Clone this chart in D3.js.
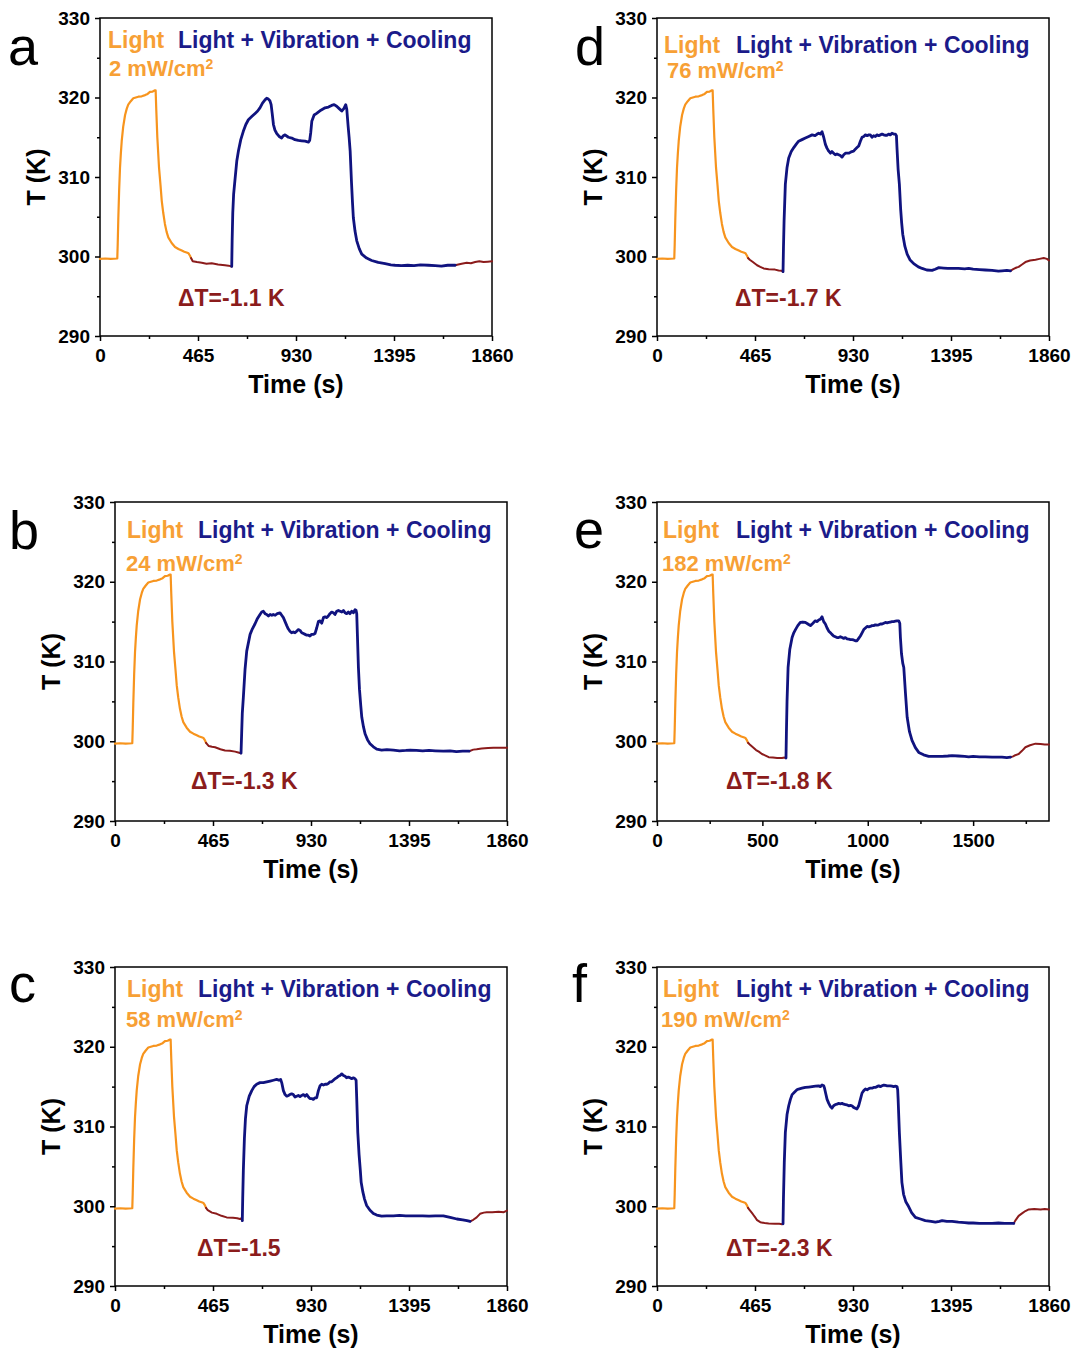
<!DOCTYPE html>
<html><head><meta charset="utf-8">
<script src="https://cdn.jsdelivr.net/npm/d3@7"></script>
<style>body{margin:0;background:#fff}svg{display:block}</style>
</head><body>
<svg id="chart" width="1078" height="1351"></svg>
<script>
// ---------------- DATA ----------------
const panelKeys = ["a","b","c","d","e","f"];
const intensities = ["2","24","58","76","182","190"];
const deltaLabels = ["ΔT=-1.1 K","ΔT=-1.3 K","ΔT=-1.5","ΔT=-1.7 K","ΔT=-1.8 K","ΔT=-2.3 K"];
const yTicks = [290,300,310,320,330];
const yMinor = [295,305,315,325];
const xTicks = [0,465,930,1395,1860];
const xMinor = [232.5,697.5,1162.5,1627.5];
const xTicksE = [0,500,1000,1500];
const xMinorE = [250,750,1250,1750];

// Light-only heating and natural cooling (same in every panel) [time s, T K]
const lightCurve = [[0,299.7],[25,299.75],[50,299.7],[82,299.75],[84,301.5],[87,304.9],[91,308.5],[95,311.2],[99,313.0],[103,314.5],[110,316.3],[119,317.8],[127,318.6],[134,319.1],[145,319.5],[158,319.9],[170,320.0],[182,320.1],[198,320.15],[214,320.3],[226,320.45],[237,320.7],[250,320.75],[261,320.9],[264,320.9],[267,318.5],[272,315.0],[280,311.2],[287,309.0],[293,307.0],[300,305.5],[308,304.1],[316,303.1],[324,302.4],[340,301.7],[356,301.2],[372,300.95],[388,300.75],[400,300.6],[411,300.5],[420,300.4],[427,300.1],[432,299.8]];

// Rest of each run [time s, T K]; switch times mark start/end of Light+Vibration+Cooling
const switchA = [625,1685];
const curveA = [[432,299.8],[440,299.4],[460,299.3],[483,299.2],[505,299.1],[530,299.15],[560,299.0],[593,298.9],[610,298.85],[625,298.75],[627,302.0],[630,305.5],[634,307.8],[641,309.8],[649,312.0],[657,313.3],[668,314.7],[680,315.75],[692,316.6],[704,317.2],[720,317.6],[736,318.0],[748,318.3],[759,318.7],[771,319.3],[783,319.7],[791,319.9],[799,319.8],[806,319.6],[812,319.1],[817,318.0],[823,316.6],[830,315.9],[838,315.5],[850,315.1],[862,314.9],[870,315.2],[878,315.3],[894,315.0],[910,314.9],[925,314.7],[941,314.6],[957,314.55],[973,314.5],[989,314.4],[995,314.6],[1000,315.6],[1005,317.0],[1016,317.8],[1028,318.0],[1048,318.4],[1068,318.7],[1084,318.8],[1099,319.0],[1111,319.1],[1123,318.9],[1135,318.6],[1147,318.3],[1157,318.6],[1166,319.1],[1171,318.5],[1177,316.5],[1182,315.0],[1187,313.25],[1193,309.5],[1198,306.8],[1202,304.9],[1210,303.2],[1218,302.0],[1230,301.0],[1242,300.3],[1265,299.8],[1289,299.5],[1320,299.25],[1353,299.1],[1380,298.95],[1400,298.9],[1430,298.85],[1460,298.9],[1490,298.85],[1520,298.95],[1558,298.9],[1590,298.85],[1620,298.8],[1650,298.9],[1685,298.9],[1700,299.0],[1716,299.1],[1740,299.2],[1760,299.15],[1780,299.3],[1800,299.4],[1820,299.3],[1840,299.35],[1860,299.4]];

const switchB = [598,1680];
const curveB = [[432,299.8],[445,299.4],[460,299.3],[475,299.25],[500,299.0],[522,298.85],[545,298.8],[570,298.7],[585,298.6],[598,298.5],[601,301.0],[604,303.5],[609,305.5],[617,309.0],[625,311.3],[641,313.4],[652,314.1],[664,314.7],[676,315.4],[688,315.9],[696,316.2],[704,316.3],[712,316.0],[720,315.9],[728,315.7],[736,315.9],[744,315.8],[751,315.9],[760,315.8],[770,316.0],[783,316.1],[791,315.8],[799,315.5],[807,315.0],[815,314.5],[822,314.1],[830,313.8],[838,313.6],[846,313.7],[854,313.6],[862,313.8],[870,314.0],[878,313.9],[886,313.6],[894,313.5],[902,313.4],[910,313.3],[918,313.3],[925,313.2],[933,313.4],[941,313.4],[949,313.5],[957,314.2],[965,315.0],[973,315.1],[981,314.8],[989,315.5],[997,315.6],[1005,315.5],[1012,315.7],[1020,316.0],[1028,316.2],[1036,316.1],[1044,315.9],[1052,316.3],[1060,316.4],[1068,316.3],[1076,316.2],[1084,316.4],[1092,316.1],[1099,316.0],[1107,316.2],[1115,316.0],[1123,316.3],[1131,316.1],[1139,316.5],[1144,316.4],[1147,316.0],[1150,313.5],[1155,309.25],[1160,306.5],[1166,304.5],[1171,303.0],[1179,301.8],[1187,300.9],[1198,300.2],[1210,299.7],[1226,299.3],[1242,299.0],[1265,298.9],[1290,298.95],[1321,298.9],[1350,298.8],[1380,298.85],[1400,298.9],[1430,298.85],[1460,298.8],[1490,298.85],[1520,298.8],[1558,298.75],[1590,298.8],[1620,298.7],[1650,298.75],[1680,298.75],[1700,298.95],[1716,299.0],[1740,299.1],[1770,299.15],[1796,299.2],[1830,299.2],[1860,299.2]];

const switchC = [604,1685];
const curveC = [[432,299.8],[440,299.5],[460,299.2],[483,299.05],[505,298.8],[530,298.6],[560,298.55],[580,298.5],[593,298.4],[600,298.5],[604,298.2],[606,301.0],[609,304.5],[614,308.5],[619,311.0],[625,312.6],[637,313.8],[649,314.5],[660,315.0],[672,315.3],[688,315.5],[704,315.5],[720,315.6],[736,315.7],[752,315.8],[767,315.9],[778,315.8],[786,315.9],[792,315.4],[799,314.5],[807,314.0],[815,313.8],[823,313.9],[830,314.0],[838,314.1],[846,314.0],[854,313.7],[862,313.8],[870,313.9],[878,313.75],[886,313.9],[894,314.0],[902,313.8],[910,314.0],[918,313.7],[925,313.5],[933,313.5],[941,313.4],[949,313.6],[957,313.6],[965,314.5],[973,315.1],[981,315.3],[989,315.2],[997,315.3],[1005,315.3],[1012,315.4],[1020,315.6],[1028,315.6],[1036,315.8],[1044,316.0],[1052,316.1],[1060,316.3],[1068,316.4],[1076,316.6],[1084,316.4],[1092,316.3],[1099,316.1],[1107,316.2],[1115,316.1],[1123,316.0],[1131,316.1],[1139,316.0],[1144,315.8],[1147,313.5],[1152,309.25],[1158,306.5],[1164,304.5],[1168,303.0],[1176,301.8],[1184,300.9],[1194,300.1],[1210,299.5],[1226,299.1],[1242,298.9],[1265,298.75],[1289,298.8],[1321,298.8],[1350,298.85],[1380,298.8],[1400,298.8],[1430,298.8],[1460,298.8],[1490,298.75],[1520,298.8],[1558,298.8],[1590,298.6],[1622,298.4],[1650,298.3],[1670,298.2],[1685,298.1],[1700,298.3],[1716,298.6],[1732,299.05],[1750,299.2],[1764,299.25],[1790,299.25],[1820,299.3],[1845,299.25],[1860,299.45]];

const switchD = [598,1677];
const curveD = [[432,299.8],[440,299.6],[455,299.3],[475,298.9],[490,298.7],[506,298.5],[530,298.4],[560,298.35],[577,298.25],[592,298.2],[598,298.1],[600,301.0],[603,304.5],[609,309.1],[617,311.2],[625,312.4],[637,313.2],[649,313.7],[660,314.1],[672,314.5],[688,314.7],[704,314.9],[720,315.1],[736,315.3],[750,315.2],[760,315.4],[767,315.5],[775,315.4],[783,315.7],[791,315.0],[799,314.1],[807,313.6],[815,313.25],[823,313.0],[830,313.2],[838,313.0],[846,312.8],[854,312.9],[862,312.8],[870,312.7],[878,312.5],[886,312.8],[894,313.0],[902,313.0],[910,313.0],[918,313.1],[925,313.2],[933,313.25],[941,313.5],[949,313.7],[957,313.9],[965,314.5],[973,315.0],[981,315.1],[989,315.3],[997,315.2],[1005,315.3],[1012,315.3],[1020,315.0],[1028,315.2],[1036,315.1],[1044,315.3],[1052,315.2],[1060,315.3],[1068,315.4],[1076,315.3],[1084,315.25],[1092,315.25],[1099,315.4],[1107,315.3],[1115,315.5],[1123,315.4],[1131,315.4],[1136,315.2],[1139,313.5],[1144,311.0],[1150,309.1],[1156,306.0],[1161,304.2],[1166,302.8],[1176,301.3],[1187,300.3],[1200,299.6],[1218,299.1],[1240,298.7],[1258,298.5],[1280,298.3],[1305,298.25],[1320,298.4],[1337,298.6],[1360,298.55],[1380,298.5],[1400,298.5],[1430,298.5],[1460,298.45],[1479,298.5],[1500,298.4],[1530,298.35],[1558,298.3],[1590,298.25],[1620,298.15],[1637,298.2],[1660,298.25],[1677,298.2],[1690,298.4],[1700,298.55],[1716,298.7],[1732,299.0],[1748,299.3],[1770,299.5],[1796,299.6],[1815,299.7],[1835,299.8],[1850,299.7],[1860,299.5]];

const switchE = [612,1677];
const curveE = [[432,299.8],[440,299.6],[455,299.25],[470,298.9],[483,298.7],[498,298.4],[515,298.2],[530,298.0],[550,297.95],[570,297.9],[593,297.9],[605,297.95],[612,297.9],[614,301.0],[617,305.0],[622,309.25],[630,311.5],[641,313.0],[649,313.6],[657,314.0],[668,314.5],[680,314.9],[692,314.95],[704,314.9],[716,314.7],[728,314.5],[740,314.8],[751,315.1],[760,315.0],[767,315.2],[775,315.3],[783,315.6],[791,315.0],[799,314.7],[807,314.2],[815,313.8],[823,313.6],[830,313.4],[838,313.2],[846,313.1],[854,313.0],[862,313.0],[870,313.1],[878,313.0],[886,312.9],[894,313.0],[902,312.85],[910,312.8],[918,312.75],[925,312.75],[933,312.7],[941,312.6],[949,312.6],[957,312.9],[965,313.2],[973,313.6],[981,314.0],[989,314.2],[997,314.4],[1005,314.35],[1012,314.4],[1020,314.5],[1028,314.5],[1036,314.6],[1044,314.55],[1052,314.6],[1060,314.7],[1068,314.7],[1076,314.8],[1084,314.9],[1092,314.85],[1099,314.9],[1107,314.95],[1115,315.0],[1123,315.0],[1131,315.05],[1139,315.1],[1147,315.1],[1152,314.8],[1155,313.0],[1160,311.0],[1166,309.8],[1171,309.25],[1179,306.0],[1187,303.0],[1198,301.2],[1210,300.1],[1226,299.2],[1242,298.6],[1265,298.3],[1289,298.1],[1320,298.1],[1353,298.1],[1380,298.15],[1400,298.2],[1430,298.15],[1460,298.1],[1479,298.05],[1500,298.1],[1530,298.05],[1558,298.05],[1590,298.0],[1620,298.0],[1637,298.0],[1660,297.95],[1677,298.0],[1690,298.1],[1700,298.25],[1716,298.4],[1732,298.8],[1748,299.25],[1770,299.5],[1796,299.7],[1820,299.65],[1840,299.6],[1860,299.6]];

const switchF = [598,1693];
const curveF = [[432,299.8],[440,299.5],[455,299.0],[466,298.6],[475,298.25],[490,298.0],[510,297.9],[530,297.85],[560,297.8],[580,297.8],[593,297.75],[598,297.8],[600,301.0],[604,305.5],[609,309.25],[617,311.5],[625,312.6],[633,313.4],[641,314.0],[652,314.3],[664,314.6],[672,314.7],[688,314.8],[704,314.9],[720,314.95],[736,315.0],[752,315.05],[767,315.1],[775,315.0],[783,315.2],[791,315.1],[795,314.8],[800,314.2],[807,313.4],[815,312.9],[823,312.5],[830,312.3],[838,312.6],[846,312.75],[854,312.8],[862,312.9],[870,312.85],[878,312.9],[886,312.8],[894,312.75],[902,312.7],[910,312.6],[918,312.65],[925,312.6],[933,312.4],[941,312.3],[949,312.2],[957,312.6],[965,313.4],[973,314.2],[981,314.5],[989,314.7],[997,314.6],[1005,314.75],[1012,314.8],[1020,314.8],[1028,314.9],[1036,314.9],[1044,315.0],[1052,315.1],[1060,315.0],[1068,315.1],[1076,315.2],[1084,315.15],[1092,315.1],[1099,315.1],[1107,315.1],[1115,315.05],[1123,315.0],[1131,315.05],[1139,315.0],[1142,314.6],[1144,313.5],[1150,309.25],[1156,306.0],[1162,303.0],[1170,301.5],[1180,300.6],[1191,300.1],[1208,299.2],[1226,298.6],[1250,298.4],[1273,298.2],[1300,298.1],[1321,298.0],[1340,298.1],[1353,298.2],[1375,298.1],[1400,298.1],[1430,298.0],[1460,297.95],[1479,297.9],[1500,297.9],[1530,297.85],[1558,297.85],[1590,297.85],[1620,297.9],[1650,297.85],[1677,297.85],[1693,297.85],[1700,298.2],[1716,298.8],[1732,299.1],[1748,299.4],[1764,299.6],[1790,299.65],[1820,299.6],[1840,299.65],[1860,299.6]];

const curves = {a:curveA,b:curveB,c:curveC,d:curveD,e:curveE,f:curveF};
const switches = {a:switchA,b:switchB,c:switchC,d:switchD,e:switchE,f:switchF};

// ---------------- LAYOUT / STYLE ----------------
const layout = {
  a:{l:100,t:18,r:492,b:336, light:[108,48], lvc:[178,48], inten:[109,76], dt:[178,306], letter:[8,65]},
  b:{l:115,t:502,r:507,b:821, light:[127,538], lvc:[198,538], inten:[126,571], dt:[191,789], letter:[9,549]},
  c:{l:115,t:967,r:507,b:1286, light:[127,997], lvc:[198,997], inten:[126,1027], dt:[197,1256], letter:[9,1002]},
  d:{l:657,t:18,r:1049,b:336, light:[664,53], lvc:[736,53], inten:[667,78], dt:[735,306], letter:[575,65]},
  e:{l:657,t:502,r:1049,b:821, light:[663,538], lvc:[736,538], inten:[662,571], dt:[726,789], letter:[574,548]},
  f:{l:657,t:967,r:1049,b:1286, light:[663,997], lvc:[736,997], inten:[661,1027], dt:[726,1256], letter:[572,1002]}
};
const FONT = "Arial, 'Liberation Sans', Helvetica, sans-serif";
const C_ORANGE = "#f7941d", C_NAVY = "#10137f", C_BROWN = "#8b1b1b";
const T_ORANGE = "#f7a035", T_NAVY = "#1b1b8a", T_BROWN = "#8b1c1c";

const svg = d3.select("#chart");
svg.append("rect").attr("width",1078).attr("height",1351).attr("fill","#fff");

panelKeys.forEach((k, i) => {
  const L = layout[k];
  const x = d3.scaleLinear().domain([0,1860]).range([L.l, L.r]);
  const y = d3.scaleLinear().domain([290,330]).range([L.b, L.t]);
  const g = svg.append("g");
  const maj = k === "e" ? xTicksE : xTicks;
  const mnr = k === "e" ? xMinorE : xMinor;

  // frame
  g.append("rect").attr("x",L.l).attr("y",L.t).attr("width",L.r-L.l).attr("height",L.b-L.t)
    .attr("fill","none").attr("stroke","#000").attr("stroke-width",1.5);

  const styleAxis = sel => {
    sel.select(".domain").remove();
    sel.selectAll("line").attr("stroke","#000").attr("stroke-width",1.5);
    sel.selectAll("text").attr("font-family",FONT).attr("font-weight","bold").attr("font-size",19).attr("fill","#000");
  };
  g.append("g").attr("transform",`translate(${L.l},0)`)
    .call(d3.axisLeft(y).tickValues(yTicks).tickSize(5).tickPadding(5)).call(styleAxis);
  g.append("g").attr("transform",`translate(${L.l},0)`)
    .call(d3.axisLeft(y).tickValues(yMinor).tickSize(3).tickFormat("")).call(styleAxis);
  g.append("g").attr("transform",`translate(0,${L.b})`)
    .call(d3.axisBottom(x).tickValues(maj).tickSize(5).tickPadding(8).tickFormat(d3.format("d"))).call(styleAxis);
  g.append("g").attr("transform",`translate(0,${L.b})`)
    .call(d3.axisBottom(x).tickValues(mnr).tickSize(3).tickFormat("")).call(styleAxis);

  // axis titles
  g.append("text").attr("x",(L.l+L.r)/2).attr("y",L.b+57).attr("text-anchor","middle")
    .attr("font-family",FONT).attr("font-weight","bold").attr("font-size",25).text("Time (s)");
  g.append("text").attr("transform",`translate(${L.l-55},${(L.t+L.b)/2}) rotate(-90)`)
    .attr("text-anchor","middle").attr("font-family",FONT).attr("font-weight","bold").attr("font-size",25).text("T (K)");

  // curves
  const line = d3.line().x(d => x(d[0])).y(d => y(d[1]));
  const sw = switches[k], c = curves[k];
  const brown1 = c.filter(d => d[0] <= sw[0]);
  const navy = c.filter(d => d[0] >= sw[0] && d[0] <= sw[1]);
  const brown2 = c.filter(d => d[0] >= sw[1]);
  const segs = [[lightCurve,C_ORANGE,2.2],[brown1,C_BROWN,2],[brown2,C_BROWN,2],[navy,C_NAVY,2.8]];
  segs.forEach(([data,col,w]) => {
    g.append("path").datum(data).attr("d",line).attr("fill","none").attr("stroke",col)
      .attr("stroke-width",w).attr("stroke-linejoin","round").attr("stroke-linecap","round");
  });

  // annotations
  g.append("text").attr("x",L.light[0]).attr("y",L.light[1]).attr("font-family",FONT).attr("font-weight","bold")
    .attr("font-size",23).attr("fill",T_ORANGE).text("Light");
  g.append("text").attr("x",L.lvc[0]).attr("y",L.lvc[1]).attr("font-family",FONT).attr("font-weight","bold")
    .attr("font-size",23).attr("fill",T_NAVY).text("Light + Vibration + Cooling");
  const it = g.append("text").attr("x",L.inten[0]).attr("y",L.inten[1]).attr("font-family",FONT).attr("font-weight","bold")
    .attr("font-size",22).attr("fill",T_ORANGE);
  it.append("tspan").text(intensities[i] + " mW/cm");
  it.append("tspan").attr("font-size",14).attr("dy",-7).text("2");
  g.append("text").attr("x",L.dt[0]).attr("y",L.dt[1]).attr("font-family",FONT).attr("font-weight","bold")
    .attr("font-size",23).attr("fill",T_BROWN).text(deltaLabels[i]);
  g.append("text").attr("x",L.letter[0]).attr("y",L.letter[1]).attr("font-family",FONT)
    .attr("font-size",54).attr("fill","#000").text(k);
});
</script>
</body></html>
